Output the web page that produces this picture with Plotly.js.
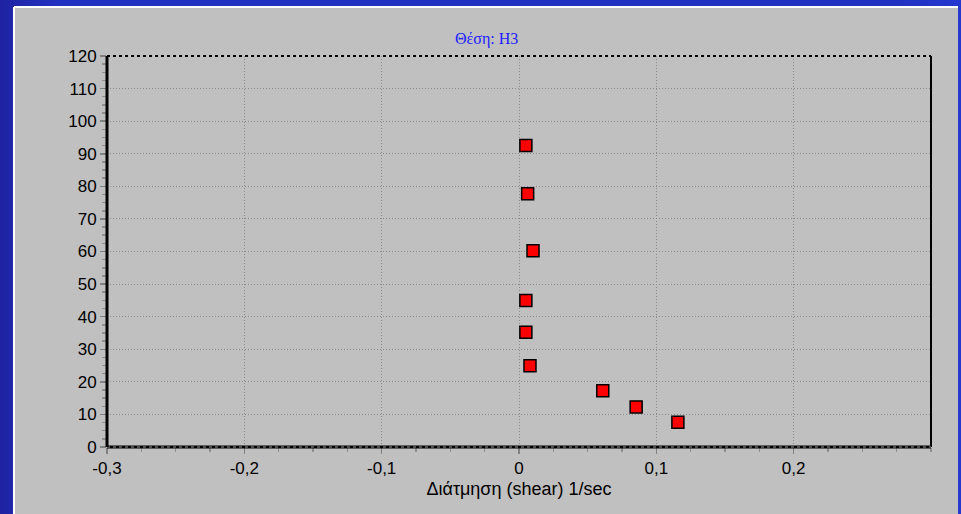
<!DOCTYPE html>
<html>
<head>
<meta charset="utf-8">
<script src="https://cdn.plot.ly/plotly-3.0.1.min.js"></script>
<style>
html,body{margin:0;padding:0;}
#chart{width:961px;height:514px;background:linear-gradient(90deg,#1f22a2 0%,#2233c2 6%,#2233c2 94%,#2438d0 100%);}
</style>
</head>
<body>
<div id="chart"></div>
<script>
const shearValues = [0.005, 0.0063, 0.0102, 0.005, 0.005, 0.008, 0.061, 0.0853, 0.1157];
const depthValues = [92.5, 77.7, 60.2, 45.0, 35.2, 24.9, 17.3, 12.3, 7.6];
const xTickVals = [-0.3, -0.2, -0.1, 0, 0.1, 0.2];
const xTickText = ['-0,3', '-0,2', '-0,1', '0', '0,1', '0,2'];
const yTickVals = [0, 10, 20, 30, 40, 50, 60, 70, 80, 90, 100, 110, 120];
const chartTitle = 'Θέση: H3';
const xTitle = 'Διάτμηση (shear) 1/sec';

const trace = {
  x: shearValues,
  y: depthValues,
  type: 'scatter',
  mode: 'markers',
  marker: {symbol: 'square', size: 12, color: '#ff0000', line: {color: '#000000', width: 1.5}},
  hoverinfo: 'x+y'
};

const layout = {
  width: 961,
  height: 514,
  margin: {l: 107, r: 30, t: 56, b: 67},
  paper_bgcolor: 'rgba(0,0,0,0)',
  plot_bgcolor: '#c0c0c0',
  showlegend: false,
  font: {family: 'Liberation Sans, Arial, sans-serif', size: 17, color: '#000'},
  xaxis: {
    range: [-0.3, 0.3],
    tickmode: 'array',
    tickvals: xTickVals,
    ticktext: xTickText,
    ticks: 'outside', ticklen: 6, tickcolor: '#808080', tickwidth: 1.5,
    showgrid: true, gridcolor: '#8a8a8a', griddash: '1px,2px', gridwidth: 1,
    zeroline: false, showline: false,
    minor: {dtick: 0.025, tick0: -0.3, ticks: 'outside', ticklen: 4, tickcolor: '#909090', showgrid: false},
    tickfont: {size: 17},
    title: {text: xTitle, font: {size: 18}, standoff: 4}
  },
  yaxis: {
    range: [0, 120],
    tickmode: 'array',
    tickvals: yTickVals,
    ticks: 'outside', ticklen: 6, tickcolor: '#808080', tickwidth: 1.5,
    showgrid: true, gridcolor: '#8a8a8a', griddash: '1px,2px', gridwidth: 1,
    zeroline: false, showline: false,
    minor: {dtick: 2.5, tick0: 0, ticks: 'outside', ticklen: 4, tickcolor: '#909090', showgrid: false},
    tickfont: {size: 17}
  },
  shapes: [
    {type: 'rect', xref: 'paper', yref: 'paper', x0: -0.1129, x1: 1.0328, y0: -0.2, y1: 1.1253,
     fillcolor: '#c0c0c0', line: {width: 0}, layer: 'below'},
    {type: 'line', xref: 'paper', yref: 'paper', x0: -0.1129, x1: 1.0328, y0: 1.1253, y1: 1.1253,
     line: {color: '#ffffff', width: 2}, layer: 'below'},
    {type: 'line', xref: 'paper', yref: 'paper', x0: -0.1129, x1: -0.1129, y0: -0.2, y1: 1.1253,
     line: {color: '#ffffff', width: 2}, layer: 'below'},
    {type: 'line', xref: 'paper', yref: 'paper', x0: 0, x1: 1, y0: 1, y1: 1,
     line: {color: '#000000', width: 2, dash: 'dot'}},
    {type: 'line', xref: 'paper', yref: 'paper', x0: 1, x1: 1, y0: 0, y1: 1,
     line: {color: '#000000', width: 2}},
    {type: 'line', xref: 'paper', yref: 'paper', x0: 0, x1: 1, y0: 0, y1: 0,
     line: {color: '#000000', width: 3}},
    {type: 'line', xref: 'paper', yref: 'paper', x0: 0, x1: 1, y0: 0, y1: 0,
     line: {color: '#9a9a9a', width: 1, dash: 'dot'}},
    {type: 'line', xref: 'paper', yref: 'paper', x0: 0, x1: 0, y0: 0, y1: 1,
     line: {color: '#000000', width: 3}}
  ],
  annotations: [
    {text: chartTitle, xref: 'paper', yref: 'paper', x: 0.461, y: 1.0435,
     xanchor: 'center', yanchor: 'middle', showarrow: false,
     font: {family: 'Liberation Serif', size: 16, color: '#2020ff'}}
  ]
};

Plotly.newPlot('chart', [trace], layout, {displayModeBar: false, staticPlot: true});
</script>
</body>
</html>
